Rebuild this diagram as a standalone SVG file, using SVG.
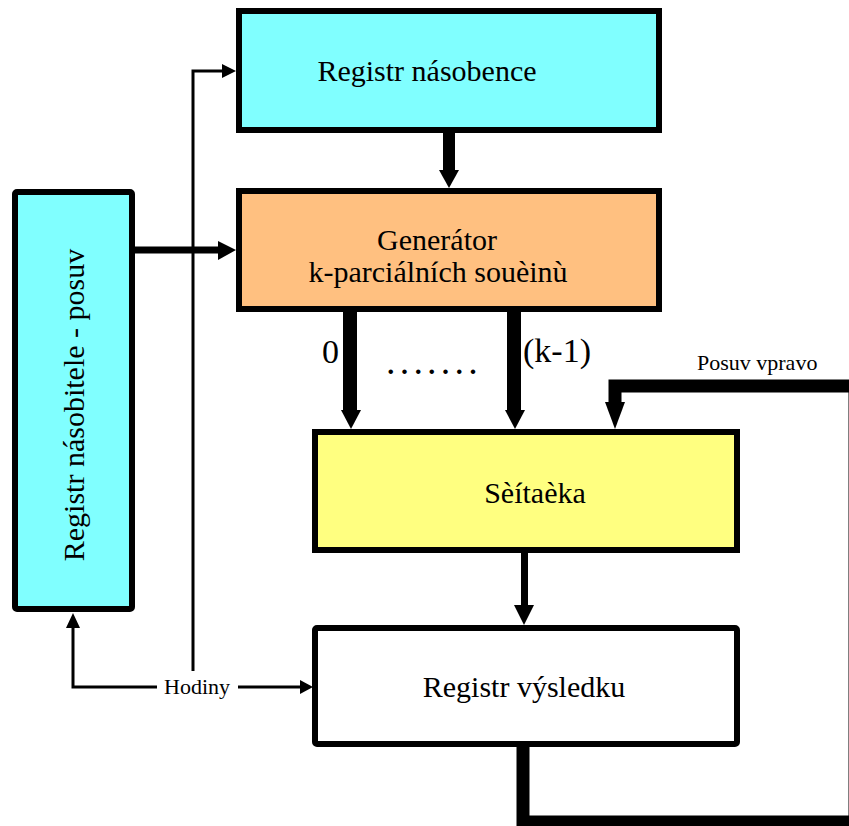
<svg xmlns="http://www.w3.org/2000/svg" width="849" height="826" viewBox="0 0 849 826">
  <style>
    .box { stroke: #000; stroke-width: 6; stroke-linejoin: miter; }
    .lbl { font-family: "Liberation Serif", "Times New Roman", serif; font-size: 30px; fill: #000; }
    .big { font-family: "Liberation Serif", "Times New Roman", serif; font-size: 34px; fill: #000; }
    .small { font-family: "Liberation Serif", "Times New Roman", serif; font-size: 22px; fill: #000; }
    .thin { fill: none; stroke: #000; stroke-width: 3; }
    .head { fill: #000; }
  </style>
  <rect width="849" height="826" fill="#fff"/>

  <!-- connectors -->
  <g id="connectors">
    <!-- clock line up to multiplicand register -->
    <path class="thin" d="M193,671 V71 H224"/>
    <polygon class="head" points="222,64 236,71 222,78"/>

    <!-- multiplier register to generator -->
    <line x1="135" y1="250" x2="220" y2="250" stroke="#000" stroke-width="7"/>
    <polygon class="head" points="218,241 236,250 218,260"/>

    <!-- multiplicand register to generator -->
    <rect x="443" y="133" width="12" height="38" fill="#000"/>
    <polygon class="head" points="439,170 459,170 449,188"/>

    <!-- generator outputs to adder -->
    <rect x="343" y="312" width="14" height="99" fill="#000"/>
    <polygon class="head" points="341,410 361,410 351,429"/>
    <rect x="507" y="312" width="14" height="99" fill="#000"/>
    <polygon class="head" points="505,410 525,410 515,429"/>

    <!-- adder to result register -->
    <rect x="521" y="553" width="7" height="53" fill="#000"/>
    <polygon class="head" points="514,605 534,605 524,625"/>

    <!-- shift-right feedback loop -->
    <path d="M523,747 V822 H855 V386 H615 V404" fill="none" stroke="#000" stroke-width="13" stroke-linejoin="miter"/>
    <polygon class="head" points="605,402 625,402 615,429"/>

    <!-- clock distribution -->
    <path class="thin" d="M157,687 H73 V626"/>
    <polygon class="head" points="66,628 80,628 73,613"/>
    <line class="thin" x1="238" y1="687" x2="302" y2="687"/>
    <polygon class="head" points="300,680 313,687 300,694"/>

    <text class="big" x="322" y="363">0</text>
    <text class="big" x="523" y="362">(k-1)</text>
    <text x="386" y="374" font-family="Liberation Serif, serif" font-size="38" letter-spacing="4.2">.......</text>
    <text class="small" x="697" y="370">Posuv vpravo</text>
    <text class="small" x="197" y="694" text-anchor="middle">Hodiny</text>
  </g>

  <g id="reg-nasobence">
    <rect class="box" x="239" y="11" width="420" height="119" fill="#80FFFF"/>
    <text class="lbl" x="427" y="81" text-anchor="middle">Registr násobence</text>
  </g>

  <g id="generator">
    <rect class="box" x="239" y="191" width="420" height="118" fill="#FFC080"/>
    <text class="lbl" x="437" y="250" text-anchor="middle">Generátor</text>
    <text class="lbl" x="438" y="282" text-anchor="middle">k-parciálních souèinù</text>
  </g>

  <g id="reg-nasobitele">
    <rect class="box" x="15" y="192" width="117" height="417" rx="2" fill="#80FFFF"/>
    <text class="lbl" transform="translate(84,405) rotate(-90)" text-anchor="middle">Registr násobitele - posuv</text>
  </g>

  <g id="scitacka">
    <rect class="box" x="315" y="432" width="422" height="118" fill="#FFFF80"/>
    <text class="lbl" x="535" y="503" text-anchor="middle">Sèítaèka</text>
  </g>

  <g id="reg-vysledku">
    <rect class="box" x="315" y="628" width="422" height="116" rx="2" fill="#FFFFFF"/>
    <text class="lbl" x="524" y="697" text-anchor="middle">Registr výsledku</text>
  </g>
</svg>
